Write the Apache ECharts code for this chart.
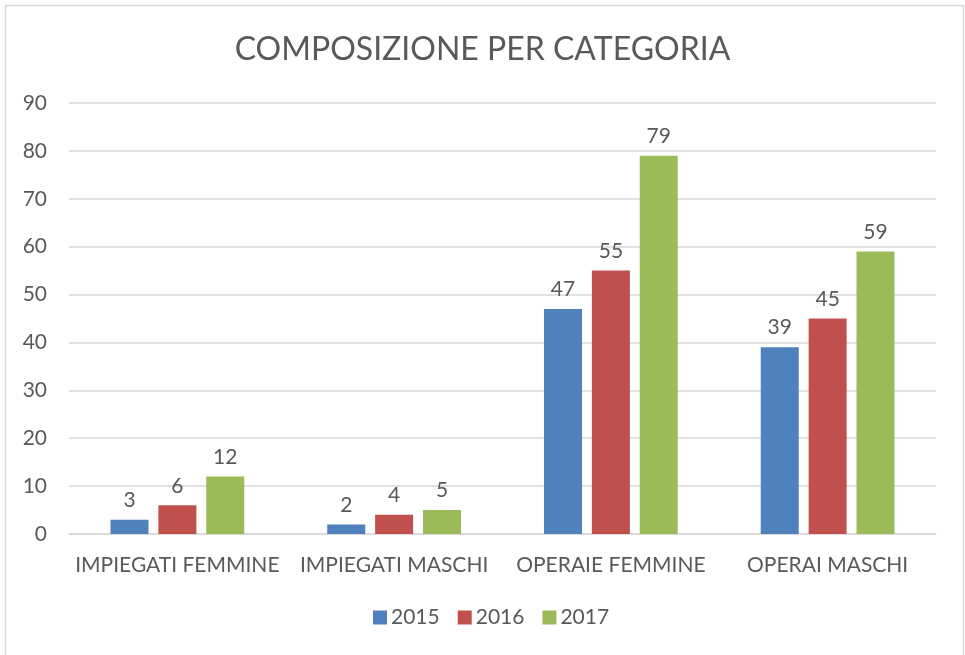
<!DOCTYPE html>
<html>
<head>
<meta charset="utf-8">
<script src="https://cdn.jsdelivr.net/npm/echarts@6/dist/echarts.min.js"></script>
<style>
  html, body { margin: 0; padding: 0; background: #fff; }
  #chart { width: 965px; height: 655px; }
</style>
</head>
<body>
<div id="chart"></div>
<script>
const categories = ['IMPIEGATI FEMMINE', 'IMPIEGATI MASCHI', 'OPERAIE FEMMINE', 'OPERAI MASCHI'];
const years = ['2015', '2016', '2017'];
const values2015 = [3, 2, 47, 39];
const values2016 = [6, 4, 55, 45];
const values2017 = [12, 5, 79, 59];
const colors = ['#4F81BD', '#C0504D', '#9BBB59'];

const textColor = '#595959';
const font = 'Lato';

const seriesData = [values2015, values2016, values2017];

const myChart = echarts.init(document.getElementById('chart'), null, { renderer: 'canvas' });

myChart.setOption({
  animation: false,
  color: colors,
  textStyle: { fontFamily: font, color: textColor },
  title: {
    text: 'COMPOSIZIONE PER CATEGORIA',
    left: 'center',
    top: 29,
    textStyle: { fontFamily: font, fontSize: 32, fontWeight: 'normal', color: textColor },
  },
  graphic: [{
    type: 'rect',
    shape: { x: 5.5, y: 5.5, width: 958, height: 660 },
    style: { fill: 'none', stroke: '#d9d9d9', lineWidth: 1.5 },
    silent: true,
  }],
  legend: {
    bottom: 22,
    left: 368,
    itemWidth: 14,
    itemHeight: 14,
    itemGap: 18,
    icon: 'rect',
    textStyle: { fontFamily: font, fontSize: 21, color: textColor, padding: [0, 0, 0, -1] },
    data: years,
  },
  grid: { left: 69, right: 29, top: 103, bottom: 121, containLabel: false },
  xAxis: {
    type: 'category',
    data: categories,
    axisLine: { lineStyle: { color: '#d9d9d9', width: 1.5 } },
    axisTick: { show: false },
    axisLabel: { fontFamily: font, fontSize: 21, color: textColor, margin: 21, interval: 0 },
  },
  yAxis: {
    type: 'value',
    min: 0,
    max: 90,
    interval: 10,
    axisLine: { show: false },
    axisTick: { show: false },
    splitLine: { lineStyle: { color: '#d9d9d9', width: 1.5 } },
    axisLabel: { fontFamily: font, fontSize: 21, color: textColor, margin: 22 },
  },
  series: years.map((y, i) => ({
    name: y,
    type: 'bar',
    data: seriesData[i],
    barWidth: 38,
    barGap: '26%',
    label: {
      show: true,
      position: 'top',
      distance: 9,
      fontFamily: font,
      fontSize: 21,
      color: textColor,
    },
  })),
});
</script>
</body>
</html>
